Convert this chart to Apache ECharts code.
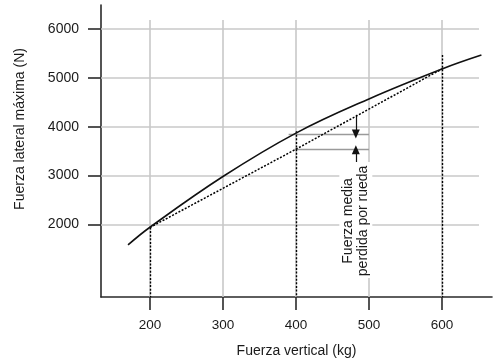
<!DOCTYPE html>
<html>
<head>
<meta charset="utf-8">
<script src="https://cdn.jsdelivr.net/npm/echarts@6/dist/echarts.min.js"></script>
<style>
html,body{margin:0;padding:0;background:#fff;}
#chart{width:500px;height:363px;}
</style>
</head>
<body>
<div id="chart"></div>
<script>
// ---- data ----
const xTicks = [200, 300, 400, 500, 600];
const yTicks = [2000, 3000, 4000, 5000, 6000];
const xTickLabels = ['200', '300', '400', '500', '600'];
const yTickLabels = ['2000', '3000', '4000', '5000', '6000'];

const curveX = [170, 200, 300, 400, 500, 600, 654];
const curveY = [1577, 1940, 2980, 3870, 4571, 5184, 5469];

const chordX = [200, 400, 600];
const chordY = [1935, 3540, 5185];

const dropX = [200, 400, 600];
const dropTop = [1935, 3910, 5473];

const lossLevels = [3850, 3530];
const lossStartX = [390, 398];
const lossEndX = 500;
const arrowX = 482;
const arrowFrom = [4245, 3168];
const annotationAnchor = [482, 2070];
const annotationLines = ['Fuerza media', 'perdida por rueda'];

const xName = 'Fuerza vertical (kg)';
const yName = 'Fuerza lateral máxima (N)';

// axis extents
const xMin = 133, xMax = 668.5;
const yMin = 510, yMax = 6496;
const gridXEnd = 650.7, gridYEnd = 6190;

// ---- build ----
const chart = echarts.init(document.getElementById('chart'), null, {renderer: 'canvas'});
const FONT = '"Liberation Sans", Arial, Helvetica, sans-serif';
const TXT = '#1a1a1a';

const gridLines = [];
xTicks.forEach(v => gridLines.push([{coord: [v, yMin]}, {coord: [v, gridYEnd]}]));
yTicks.forEach(v => gridLines.push([{coord: [xMin, v]}, {coord: [gridXEnd, v]}]));

const lossLines = lossLevels.map((v, i) => [{coord: [lossStartX[i], v]}, {coord: [lossEndX, v]}]);
const arrowLines = lossLevels.map((v, i) => [{coord: [arrowX, arrowFrom[i]]}, {coord: [arrowX, v]}]);
const dropLines = dropX.map((x, i) => [{coord: [x, dropTop[i]]}, {coord: [x, yMin]}]);

const option = {
  animation: false,
  backgroundColor: '#fff',
  grid: {left: 101, right: 8, top: 5, bottom: 65},
  xAxis: {
    type: 'value', min: xMin, max: xMax,
    name: xName, nameLocation: 'middle', nameGap: 47,
    nameTextStyle: {fontFamily: FONT, fontSize: 14, color: TXT},
    axisLine: {show: true, onZero: false, lineStyle: {color: '#2a2a2a', width: 1.6}},
    axisTick: {show: true, customValues: xTicks, length: 13, lineStyle: {color: '#2a2a2a', width: 1.6}},
    axisLabel: {customValues: xTicks, formatter: v => xTickLabels[xTicks.indexOf(v)], margin: 21,
      fontFamily: FONT, fontSize: 13.5, color: TXT},
    splitLine: {show: false}
  },
  yAxis: {
    type: 'value', min: yMin, max: yMax,
    axisLine: {show: true, onZero: false, lineStyle: {color: '#2a2a2a', width: 1.6}},
    axisTick: {show: true, customValues: yTicks, length: 13, lineStyle: {color: '#2a2a2a', width: 1.6}},
    axisLabel: {customValues: yTicks, formatter: v => yTickLabels[yTicks.indexOf(v)], margin: 22,
      fontFamily: FONT, fontSize: 14, color: TXT},
    splitLine: {show: false}
  },
  series: [
    {
      type: 'line', data: [], silent: true, z: 1,
      markLine: {silent: true, symbol: ['none', 'none'], label: {show: false}, animation: false,
        lineStyle: {color: '#c8c8c8', width: 1.6, type: 'solid'}, data: gridLines}
    },
    {
      type: 'line', data: [], silent: true, z: 2,
      markLine: {silent: true, symbol: ['none', 'none'], label: {show: false}, animation: false,
        lineStyle: {color: '#9a9a9a', width: 1.3, type: 'solid'}, data: lossLines}
    },
    {
      type: 'line', data: [], silent: true, z: 3,
      markLine: {silent: true, symbol: ['none', 'none'], label: {show: false}, animation: false,
        lineStyle: {color: '#000', width: 1.4, type: [2, 1.6]}, data: dropLines}
    },
    {
      type: 'line', data: [], silent: true, z: 4,
      markLine: {silent: true, symbol: ['none', 'triangle'], symbolSize: [8, 9], label: {show: false}, animation: false,
        lineStyle: {color: '#111', width: 1.2, type: 'solid'}, data: arrowLines}
    },
    {
      type: 'line', data: chordX.map((x, i) => [x, chordY[i]]), showSymbol: false, z: 5,
      lineStyle: {color: '#000', width: 1.5, type: [2, 1.6]}
    },
    {
      type: 'line', data: curveX.map((x, i) => [x, curveY[i]]), showSymbol: false, smooth: 0.4, z: 6,
      lineStyle: {color: '#111', width: 1.6}
    }
  ]
};
chart.setOption(option);

const c = chart.convertToPixel({gridIndex: 0}, annotationAnchor);
chart.setOption({
  graphic: [
    {type: 'rect', z: 50, shape: {x: c[0] - 16.5, y: c[1] - 59, width: 33, height: 116}, style: {fill: '#fff'}},
    {type: 'text', z: 51, x: c[0], y: c[1], rotation: Math.PI / 2,
      style: {text: annotationLines.join('\n'), fontFamily: FONT, fontSize: 14, fill: TXT,
        align: 'center', verticalAlign: 'middle', lineHeight: 15.6}},
    {type: 'text', z: 51, x: 20, y: 129, rotation: Math.PI / 2,
      style: {text: yName, fontFamily: FONT, fontSize: 14, fill: TXT, align: 'center', verticalAlign: 'middle'}}
  ]
});
</script>
</body>
</html>
